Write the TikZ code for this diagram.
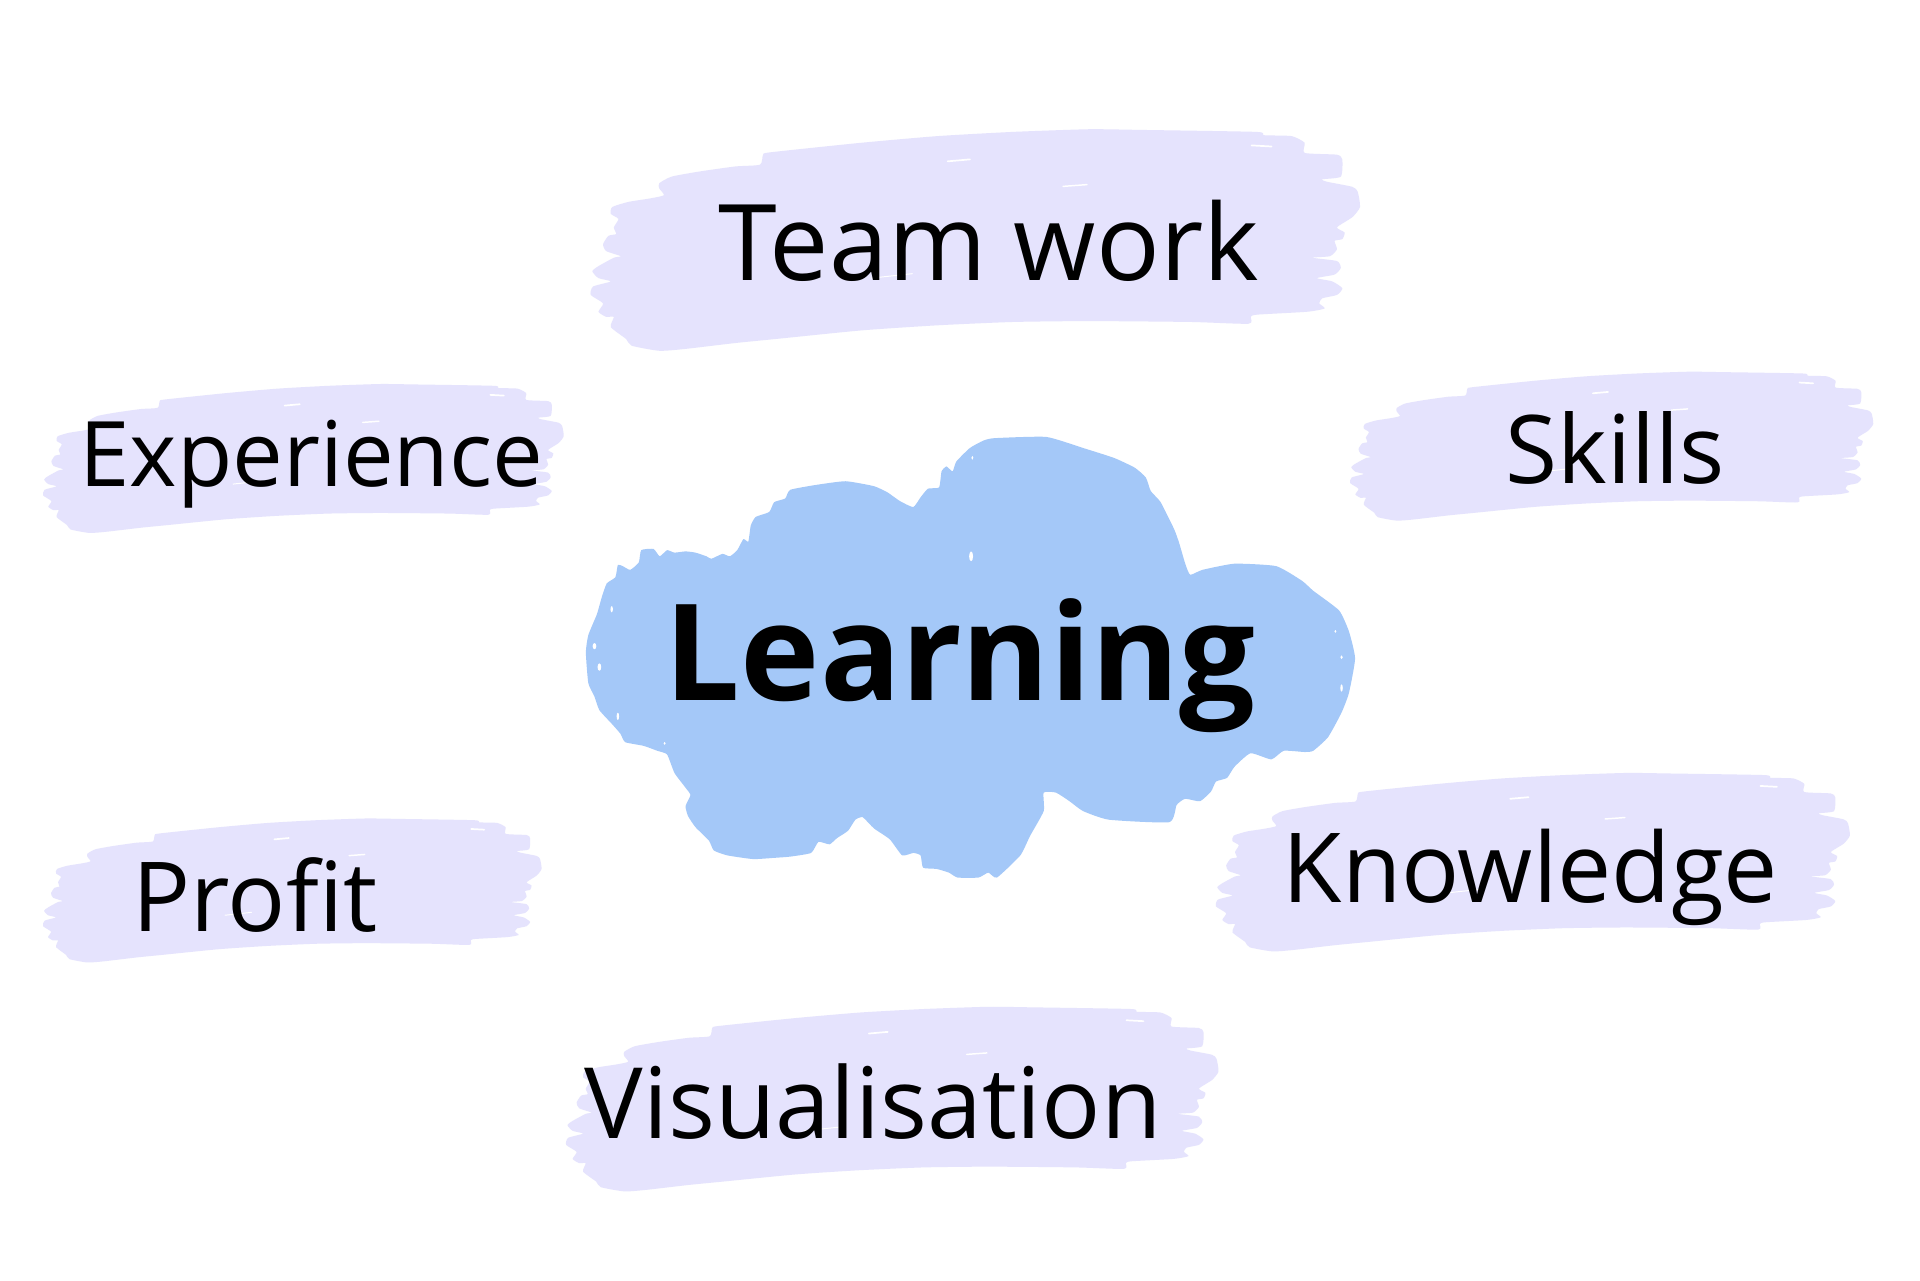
\documentclass[tikz,border=0pt]{standalone}
\usepackage{fontspec}
\setmainfont{Open Sans}
\definecolor{brushc}{RGB}{229,227,253}
\definecolor{cloudc}{RGB}{164,200,248}
\tikzset{
  label/.style={anchor=base, text=black, inner sep=0pt, font=\fontsize{#1}{#1}\selectfont},
  boldlabel/.style={anchor=base, text=black, inner sep=0pt, font=\fontsize{#1}{#1}\selectfont\bfseries},
  speck/.style={fill=white}
}
\newcommand\brushshape{plot[smooth cycle, tension=0.35] coordinates {
(0.089,0.244) (0.105,0.214) (0.141,0.191) (0.188,0.168) (0.220,0.160) (0.224,0.115) (0.234,0.104)
(0.352,0.061) (0.451,0.031) (0.549,0.012) (0.648,0.0) (0.714,0.003) (0.865,0.012) (0.875,0.027)
(0.911,0.031) (0.928,0.061) (0.928,0.107) (0.970,0.115) (0.977,0.137) (0.975,0.214) (0.951,0.226)
(0.957,0.237) (0.990,0.260) (0.997,0.282) (1.0,0.351) (0.990,0.397) (0.970,0.443) (0.980,0.466)
(0.977,0.496) (0.967,0.504) (0.970,0.542) (0.961,0.573) (0.938,0.580) (0.970,0.595) (0.975,0.626)
(0.967,0.656) (0.944,0.672) (0.964,0.687) (0.977,0.718) (0.970,0.748) (0.951,0.763) (0.947,0.786)
(0.954,0.809) (0.931,0.824) (0.866,0.837) (0.858,0.847) (0.855,0.878) (0.780,0.870) (0.648,0.866)
(0.549,0.870) (0.451,0.885) (0.352,0.908) (0.240,0.947) (0.188,0.965) (0.122,0.992) (0.089,1.0)
(0.053,0.977) (0.046,0.947) (0.026,0.893) (0.030,0.847) (0.020,0.847) (0.010,0.824) (0.016,0.786)
(0.0,0.748) (0.003,0.710) (0.026,0.687) (0.010,0.672) (0.002,0.641) (0.010,0.618) (0.030,0.580)
(0.039,0.573) (0.020,0.550) (0.016,0.519) (0.023,0.481) (0.033,0.473) (0.030,0.443) (0.036,0.405)
(0.026,0.382) (0.028,0.351) (0.049,0.328) (0.076,0.313) (0.095,0.298) (0.089,0.267)}}
\newcommand\drawbrush[4]{%
\begin{scope}[shift={(#1,#2)}, xscale={#3-#1}, yscale={#4-#2}]
\fill[brushc] \brushshape;
\draw[white, line width=1.4pt, line cap=round] (0.464,0.145) -- (0.493,0.136);
\draw[white, line width=1.2pt, line cap=round] (0.614,0.258) -- (0.645,0.250);
\draw[white, line width=1.4pt, line cap=round] (0.859,0.073) -- (0.885,0.078);
\draw[white, line width=0.8pt, line cap=round] (0.365,0.672) -- (0.418,0.652);
\end{scope}}
\begin{document}
\begin{tikzpicture}[x=1pt,y=-1pt]
\useasboundingbox (0,0) rectangle (1560,1040.8);
\fill[white] (0,0) rectangle (1560,1040.8);
% brushes
\drawbrush{480}{105}{1105}{285}
\drawbrush{35}{312}{458}{433}
\drawbrush{1097}{302}{1522}{423}
\drawbrush{35}{665}{440}{782}
\drawbrush{988}{628}{1503}{773}
\drawbrush{460}{818}{990}{968}
% cloud
\fill[cloudc] plot[smooth cycle, tension=0.3] coordinates {
(808,356) (850,355) (880,364) (905,372) (922,380) (931,388) (935,399) (943,408) (954,430) (958,441)
(963,458) (967,467) (977,463) (1003,458) (1037,460) (1058,472) (1067,480) (1088,496) (1096,513)
(1101,535) (1096,563) (1090,579) (1079,599) (1067,610) (1060,611) (1043,610) (1033,617) (1016,612)
(1003,623) (997,632) (988,635) (984,643) (975,651) (963,649) (956,654) (950,668) (901,666) (880,659)
(869,651) (858,644) (848,644) (848,659) (837,679) (829,695) (810,713) (803,709) (795,713) (778,713)
(771,709) (761,706) (750,705) (748,695) (742,693) (733,695) (723,682) (710,673) (701,664) (695,666)
(689,675) (680,681) (674,686) (665,684) (659,693) (642,696) (629,697) (612,698) (591,695) (580,691)
(576,683) (565,672) (559,663) (557,655) (561,646) (557,640) (548,628) (542,613) (534,610) (523,606)
(508,603) (504,596) (497,588) (487,577) (483,566) (478,555) (476,530) (478,516) (485,499) (489,485)
(493,474) (500,469) (502,459) (506,460) (512,463) (519,457) (521,447) (531,446) (536,452) (542,447)
(548,449) (557,448) (565,449) (574,452) (578,454) (587,450) (593,452) (599,447) (604,438) (608,440)
(610,427) (614,420) (625,416) (629,408) (638,405) (642,398) (663,394) (687,391) (710,395) (721,400)
(731,407) (742,412) (748,404) (754,397) (763,396) (765,383) (769,379) (774,383) (777,375) (788,364)
(799,358)};
\foreach \p/\a/\b in {{(789,452)}/1.6/4, {(790,372)}/0.8/1.6, {(497,495)}/1/2.5, {(483,525)}/1.5/2.5,
  {(487,542)}/1.5/3, {(502,582)}/1/3, {(1090,534)}/1/1.5, {(1090,559)}/1/3, {(1085,513)}/0.8/1.2, {(540,604)}/0.8/1.2}
  \fill[speck] \p ellipse [x radius=\a, y radius=\b];
% labels
\node[label=86] (teamwork) at (803.5,228) {Team work};
\node[label=73.5] (experience) at (253,395) {Experience};
\node[label=77] (skills) at (1312.5,393) {Skills};
\node[boldlabel=109] (learning) at (780,569) {Learning};
\node[label=78.5] (profit) at (207,757) {Profit};
\node[label=78.5] (knowledge) at (1243.5,733) {Knowledge};
\node[label=80] (visualisation) at (709.5,925) {Visualisation};
\end{tikzpicture}
\end{document}
